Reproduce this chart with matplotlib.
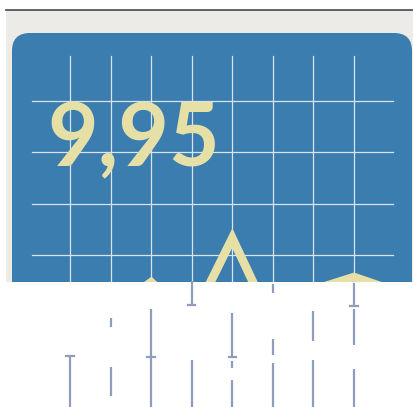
import matplotlib
matplotlib.use("Agg")
import matplotlib.pyplot as plt
from matplotlib.patches import FancyBboxPatch, Rectangle

# ---- data ----
x_idx = [0, 1, 2, 3, 4, 5, 6, 7, 8]
values = [-0.3, -0.1, 0.47, -0.27, 1.33, -0.35, 0.32, 0.57, 0.30]
grid_x = [0, 1, 2, 3, 4, 5, 6, 7]
grid_y = [1, 2, 3, 4]
label = "9,95"

# lower vertical fragments per grid column (value ranges) and cap positions
seg_cols = [0, 1, 2, 3, 4, 5, 6, 7]
seg_ranges = [
    [(-0.97, -2.0)],
    [(-0.23, -0.40), (-1.18, -1.75)],
    [(-0.05, -2.0)],
    [(0.49, 0.03), (-1.05, -2.0)],
    [(-0.13, -0.99), (-1.07, -1.20), (-1.44, -2.0)],
    [(0.44, 0.26), (-0.64, -0.95), (-1.11, -2.0)],
    [(-0.09, -0.68), (-1.05, -2.0)],
    [(0.45, 0.01), (-0.05, -0.75), (-1.22, -2.0)],
]
seg_caps = [[-0.97], [], [-0.99], [0.03], [-0.99], [], [], [0.01]]

W, H = 414, 407
fig = plt.figure(figsize=(W / 100, H / 100), dpi=100)
fig.patch.set_facecolor("white")

# background / decoration axes in pixel units
bg = fig.add_axes([0, 0, 1, 1])
bg.set_xlim(0, W)
bg.set_ylim(H, 0)
bg.axis("off")
bg.add_patch(Rectangle((6, 10), W - 6, 272, facecolor="#ecebe8", edgecolor="none", zorder=0))
bg.plot([6, W], [10, 10], color="#555555", lw=1.3, zorder=1)
panel = FancyBboxPatch((12, 33), 400, 320, boxstyle="round,pad=0,rounding_size=18",
                       facecolor="#3c7db0", edgecolor="none", zorder=1)
bg.add_patch(panel)

# data axes
ax = fig.add_axes([0, 0, 1, 1])
ax.patch.set_alpha(0)
ax.axis("off")
px0, pdx = 70.0, 40.57
py1, pdy = 255.0, 51.3
ax.set_xlim((0 - px0) / pdx, (W - px0) / pdx)
ax.set_ylim(1 - (H - py1) / pdy, 1 + py1 / pdy)

v_top = 1 + (py1 - 56) / pdy
v_cut = 1 - (281.5 - py1) / pdy
for gx in grid_x:
    ax.plot([gx, gx], [v_cut, v_top], color="#d9e4ec", lw=0.9, zorder=3)
for gy in grid_y:
    ax.plot([(31.7 - px0) / pdx, (393 - px0) / pdx], [gy, gy], color="#d9e4ec", lw=0.9, zorder=3)

ax.text((47 - px0) / pdx, 1 + (py1 - 166) / pdy, label, fontsize=63, fontfamily="Lato",
        fontweight="bold", color="#e6e0a6", ha="left", va="baseline", zorder=4)

ax.plot(x_idx, values, color="#e6e0a6", lw=6.2, solid_joinstyle="miter", zorder=5)

# white mask below the panel cut
bg2 = fig.add_axes([0, 0, 1, 1])
bg2.patch.set_alpha(0)
bg2.axis("off")
bg2.set_xlim(0, W)
bg2.set_ylim(H, 0)
bg2.add_patch(Rectangle((0, 281.5), W, H - 281.5, facecolor="white", edgecolor="none"))

ax2 = fig.add_axes([0, 0, 1, 1])
ax2.patch.set_alpha(0)
ax2.axis("off")
ax2.set_xlim(ax.get_xlim())
ax2.set_ylim(ax.get_ylim())
for c, ranges, caps in zip(seg_cols, seg_ranges, seg_caps):
    for a, b in ranges:
        ax2.plot([c, c], [a, b], color="#8f9dbd", lw=1.6, solid_capstyle="butt")
    for cp in caps:
        ax2.plot([c - 0.09, c + 0.09], [cp, cp], color="#8f9dbd", lw=1.6)

fig.savefig("out.png", dpi=100, facecolor="white")
